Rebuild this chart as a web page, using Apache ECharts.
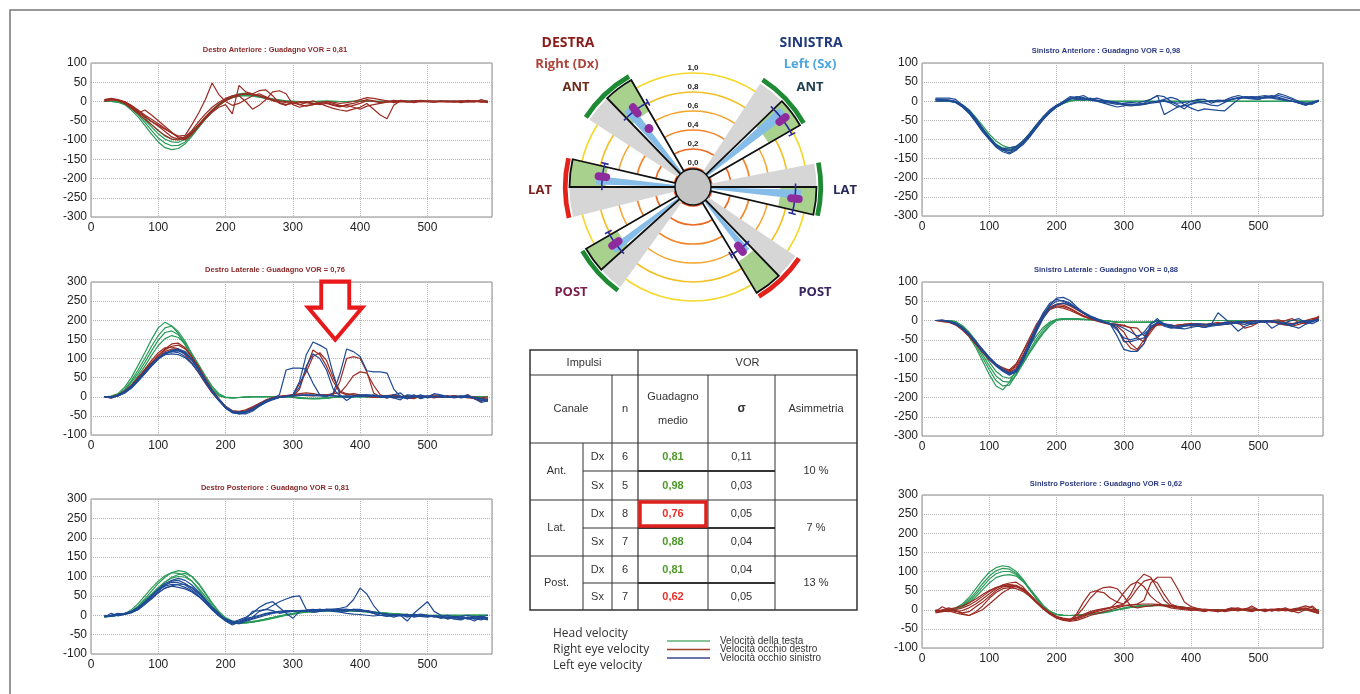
<!DOCTYPE html>
<html>
<head>
<meta charset="utf-8">
<title>VOR – video head impulse test</title>
<script src="https://cdn.jsdelivr.net/npm/echarts@6/dist/echarts.min.js"></script>
<style>
  html, body { margin: 0; padding: 0; background: #fff; }
  #chart { width: 1360px; height: 694px; }
</style>
</head>
<body>
<div id="chart"></div>
<script>
// sample times (ms) shared by every trace
const timeMs = [20,30,40,50,60,70,80,90,100,110,120,130,140,150,160,170,180,190,200,210,220,230,240,250,260,270,280,290,300,310,320,330,340,350,360,370,380,390,400,410,420,430,440,450,460,470,480,490,500,510,520,530,540,550,560,570,580,590];

// ---- Destro Anteriore
const dxAntHead = [
  [0,0,-2,-8,-22,-40,-62,-85,-105,-120, -125,-122,-110,-90,-68,-46,-27,-10,3,12, 16,17,15,12,8,5,3,1,0,0, 0,-1,0,1,0,0,-1,0,1,0, 0,0,1,0,0,1,2,1,0,0, 1,0,0,1,0,0,1,0],
  [0,0,-1,-6,-18,-34,-54,-75,-95,-108, -115,-114,-105,-88,-66,-45,-27,-11,2,10, 14,15,14,11,8,5,3,1,0,0, 0,0,1,0,0,0,0,1,0,0, 1,0,0,0,1,0,1,0,1,0, 0,1,0,0,1,0,0,1],
  [0,0,-1,-5,-15,-30,-48,-66,-84,-98, -105,-106,-98,-82,-62,-42,-24,-9,3,11, 15,17,16,13,9,6,3,1,0,0, 0,0,0,1,0,0,0,0,1,0, 0,1,0,0,0,1,0,1,0,0, 1,0,0,0,0,1,0,0],
  [0,0,0,-4,-12,-26,-42,-60,-76,-90, -97,-98,-92,-78,-60,-40,-22,-6,6,14, 20,22,20,16,11,7,4,2,1,0, 0,0,0,0,1,0,0,0,0,1, 0,0,0,1,0,0,0,0,1,0, 0,0,1,0,0,0,0,1]
];
const dxAntEyeR = [
  [5,8,5,0,-10,-22,-35,-46,-58,-70, -82,-92,-95,-80,-60,-40,-22,-8,5,14, 18,20,18,14,8,3,0,-3,-5,-3, 0,-5,-8,-5,-10,-14,-8,-5,0,5, 2,-2,0,3,0,-2,0,2,0,-2, 0,2,0,-3,0,2,0,-2],
  [3,5,3,-2,-12,-25,-38,-52,-62,-72, -82,-90,-88,-60,-30,5,48,18,0,-10, -5,5,15,20,12,2,-3,-8,-5,0, -3,-6,-2,0,-5,-10,-15,-10,-5,2, 0,-3,-2,0,2,-1,1,3,0,-2, 1,0,-1,2,0,-2,5,0],
  [2,6,4,-2,-15,-30,-22,-35,-50,-65, -80,-95,-100,-85,-65,-45,-28,-15,-8,-32, 42,25,20,28,30,15,-5,-10,0,-8, -3,2,-5,-12,-18,-22,-25,-20,-15,-5, -20,-35,-45,-10,2,0,-3,1,-1,0, 2,0,-2,0,3,0,-2,0],
  [0,4,3,-3,-14,-28,-40,-52,-64,-78, -92,-98,-96,-82,-62,-42,-24,-10,2,10, 15,0,-20,-10,5,25,28,20,-8,-15, -10,-8,-5,-3,-8,-12,-10,-15,-20,-12, -8,-5,-2,0,3,1,-2,0,2,1, 0,-2,0,1,0,2,-1,0],
  [5,6,2,-5,-18,-32,-46,-60,-75,-88, -98,-100,-92,-75,-52,-32,-15,-2,8,15, 18,20,18,15,10,5,2,0,-4,-8, -12,-8,-4,0,-2,-5,-3,0,5,10, 8,5,2,-3,-1,0,2,-1,0,1, -1,0,2,0,-2,0,1,-3]
];

// ---- Destro Laterale
const dxLatHead = [
  [0,2,8,25,50,82,115,150,180,195, 185,165,135,105,72,42,16,2,-2,-3, -2,-1,0,0,0,0,0,0,0,-2, -4,-5,-5,-4,-2,0,0,1,0,0, 0,0,0,0,1,0,0,0,0,0, 0,0,0,0,0,0,0,0],
  [0,1,6,20,42,70,100,132,160,180, 185,170,145,112,80,48,20,4,-2,-3, -2,-1,0,0,0,0,0,0,-2,-4, -5,-5,-4,-3,-1,0,0,0,0,0, 0,0,0,1,0,0,0,0,0,0, 0,0,0,0,0,0,0,0],
  [0,1,5,17,38,62,90,120,148,168, 172,162,140,110,80,50,24,6,-2,-3, -2,-1,0,0,0,0,0,0,-1,-3, -4,-5,-5,-3,-2,0,0,0,0,0, 0,0,0,0,0,0,0,0,0,0, 0,0,0,0,0,0,0,0],
  [0,0,4,14,32,55,80,108,134,152, 160,155,138,112,84,55,28,8,-1,-2, -2,-1,0,0,0,0,0,0,-1,-3, -4,-4,-4,-3,-2,-1,0,0,0,0, 0,0,0,0,0,0,0,0,0,0, 0,0,0,0,0,0,0,0]
];
const dxLatEyeR = [
  [0,-4,2,12,28,48,68,88,108,125, 138,140,128,105,78,48,18,-5,-25,-38, -42,-38,-30,-20,-10,-4,0,2,0,20, 75,122,110,80,40,12,5,8,5,3, 0,-2,3,5,0,-5,2,-3,0,5, 0,3,-2,0,5,-5,-10,-8],
  [0,0,5,15,30,50,70,90,108,122, 132,135,125,102,75,45,15,-8,-28,-40, -44,-40,-32,-22,-12,-5,0,3,5,5, 3,2,5,5,5,40,100,105,100,65, 10,0,-3,5,0,-3,-5,2,0,-3, 2,0,3,-2,0,-5,-12,-5],
  [0,-2,4,14,30,50,72,95,115,128, 130,125,110,88,62,35,10,-10,-28,-38, -40,-36,-28,-18,-8,-2,2,3,5,8, 10,8,5,5,8,10,30,55,65,62, 30,5,0,-3,0,3,0,-2,2,0, -2,0,3,0,-2,-5,-3,0],
  [0,0,3,12,26,45,66,86,104,118, 125,124,115,95,70,42,15,-6,-25,-36, -38,-34,-26,-18,-10,-4,0,2,4,35, 65,105,115,95,50,15,8,5,3,0, -2,0,3,-2,0,2,-3,0,2,0, -2,0,2,0,-3,0,-4,-6]
];
const dxLatEyeL = [
  [0,0,2,10,22,40,60,80,98,112, 122,125,118,98,72,44,15,-8,-30,-42, -44,-45,-38,-25,-14,-6,-2,0,5,40, 110,143,135,125,60,5,-10,2,0,3, 5,2,0,-3,-8,5,3,-5,0,8, 5,0,-3,0,5,-5,-15,-10],
  [0,-3,3,12,25,42,62,82,100,115, 120,122,115,98,72,42,14,-8,-28,-40, -45,-42,-35,-22,-12,-5,5,70,75,75, 72,35,5,3,2,0,2,0,3,0, 3,0,-3,0,2,-5,0,3,-2,0, 2,-2,0,3,-2,-3,-8,-12],
  [0,0,2,10,24,42,62,82,100,112, 118,120,112,95,70,42,15,-6,-26,-38, -42,-40,-34,-25,-15,-8,-2,0,2,3, 5,3,2,0,10,60,125,118,105,68, 65,65,62,20,0,-5,5,-3,0,2, -2,0,2,-3,0,-2,-10,-6],
  [0,-2,4,14,28,46,66,86,102,114, 118,115,105,88,64,38,12,-10,-30,-40, -40,-38,-30,-20,-10,-4,0,2,4,25, 80,112,100,70,20,2,-2,0,3,5, 2,-2,0,5,10,-5,0,5,-3,0, 3,0,-2,0,2,-2,-5,-8],
  [0,0,3,12,26,44,64,84,100,110, 112,110,102,86,64,38,12,-8,-28,-38, -42,-40,-34,-24,-14,-6,-2,0,2,4, 5,5,4,3,3,2,2,3,5,5, 3,2,3,0,-3,2,0,3,2,0, 0,2,0,-2,0,-3,-5,-10]
];

// ---- Destro Posteriore
const dxPostHead = [
  [-5,-3,0,2,10,24,42,62,82,98, 110,115,112,100,80,55,30,8,-8,-18, -20,-20,-18,-15,-12,-8,-4,0,3,6, 8,10,10,11,12,12,12,11,10,9, 8,6,5,4,3,2,1,0,0,-1, -1,0,0,-1,0,0,0,0],
  [-3,-2,0,4,14,30,50,70,88,102, 110,108,102,88,66,42,18,0,-12,-20, -22,-20,-18,-14,-10,-6,-2,2,5,8, 10,11,12,12,13,13,12,12,11,10, 8,7,5,4,3,2,1,0,-1,-1, 0,0,-1,0,0,0,0,0],
  [-4,-2,0,3,10,22,38,55,72,86, 96,100,98,88,70,48,25,5,-10,-18, -20,-19,-17,-14,-10,-6,-2,1,4,7, 9,10,11,12,12,12,12,11,10,9, 8,6,5,4,2,1,0,0,-1,0, 0,-1,0,0,0,0,0,0],
  [-3,-3,0,2,8,18,34,52,70,86, 98,105,108,100,82,58,32,10,-6,-15, -18,-18,-16,-13,-10,-6,-3,0,3,6, 8,9,10,11,12,12,12,11,10,8, 7,6,5,3,2,1,0,0,0,-1, 0,0,0,-1,0,0,0,0]
];
const dxPostEyeL = [
  [-5,5,-2,3,8,18,32,50,68,82, 90,95,90,78,60,40,20,2,-12,-20, -15,-8,-5,10,15,12,5,8,10,12, 10,12,15,12,10,8,5,3,2,0, -2,0,3,-2,0,3,-5,-2,0,-3, -5,-8,-3,-5,-10,-5,-2,-8],
  [-2,0,5,2,6,14,28,45,62,78, 88,90,82,70,55,38,20,5,-15,-25, -18,-10,10,12,15,25,35,42,48,50, 15,8,10,12,15,12,10,15,12,10, 5,0,-3,0,2,-5,0,3,0,-2, -3,0,-5,-8,-5,-10,-5,0],
  [0,-3,0,4,10,20,35,52,65,75, 80,78,72,62,50,35,18,0,-10,-18, -12,-5,5,20,30,35,20,5,-8,10, 12,8,10,15,12,10,12,15,15,10, 5,0,-2,2,0,-2,3,0,-3,0, -5,-2,-8,-3,0,-5,-3,-10],
  [-3,0,2,5,8,15,28,42,58,70, 75,72,68,60,48,32,15,0,-10,-15, -18,-12,-5,0,5,8,10,12,12,12, 13,15,12,15,15,18,22,40,70,55, 25,5,0,-5,0,-15,5,20,35,10, 0,-10,-5,-3,-8,-15,-5,-10],
  [-4,-2,0,3,8,18,33,50,66,78, 85,84,78,66,50,32,14,-2,-15,-22, -20,-14,-8,-2,3,6,8,10,10,12, 12,14,15,14,13,14,15,12,10,12, 8,5,3,0,2,-2,0,-3,-5,-2, -8,-5,-10,-12,-5,-8,-12,-5],
  [-2,0,3,5,10,20,32,45,58,70, 76,80,80,72,58,40,20,3,-12,-20, -22,-16,-10,-5,0,5,8,9,10,12, 12,12,14,15,15,16,15,14,13,12, 8,5,2,0,-2,0,-3,-2,0,-5, -3,-8,-5,-10,-6,-3,-8,-12]
];

// ---- Sinistro Anteriore
const sxAntHead = [
  [0,0,0,-3,-12,-28,-50,-75,-98,-118, -128,-130,-122,-105,-85,-62,-42,-26,-13,-4, 2,4,4,3,2,1,0,0,0,0, 0,0,0,0,0,0,0,0,0,0, 0,0,0,0,0,0,0,0,0,0, 0,0,0,0,0,0,0,0],
  [0,0,0,-2,-10,-25,-46,-70,-92,-112, -122,-126,-120,-104,-84,-62,-42,-26,-14,-5, 1,3,4,3,2,1,0,0,0,0, 0,0,0,0,0,0,0,0,0,0, 0,0,0,0,0,0,0,0,0,0, 0,0,0,0,0,0,0,0],
  [0,0,0,-2,-9,-22,-42,-64,-86,-104, -116,-122,-118,-104,-86,-65,-45,-28,-15,-6, 0,3,4,3,2,1,0,0,0,0, 0,0,0,0,0,0,0,0,0,0, 0,0,0,0,0,0,0,0,0,0, 0,0,0,0,0,0,0,0]
];
const sxAntEyeL = [
  [8,8,8,5,-10,-25,-48,-72,-95,-115, -128,-135,-125,-108,-88,-65,-45,-28,-15,-5, 5,12,8,5,8,3,0,-3,-8,-10, -8,-5,5,15,-35,-25,-15,-10,0,5, 5,-5,0,3,10,15,10,8,5,10, 12,15,10,5,-5,-10,-5,0],
  [5,5,3,0,-12,-28,-50,-74,-96,-116, -126,-128,-120,-110,-92,-70,-48,-30,-15,-5, 8,5,3,8,2,0,-2,-5,-10,-12, -10,-8,-3,0,5,10,5,-10,-18,-25, -20,-22,-24,-25,-10,5,12,10,8,12, 15,10,5,0,-3,-10,-5,0],
  [0,0,2,-2,-15,-32,-55,-80,-100,-120, -132,-138,-128,-110,-88,-64,-42,-25,-12,0, 12,10,15,5,0,-3,-5,-8,-5,-3, -5,0,5,15,12,0,-10,-20,-5,-3, 0,2,-2,0,5,8,10,12,10,8, 10,20,15,8,0,-5,-3,3],
  [3,2,0,-4,-14,-30,-52,-76,-98,-116, -124,-122,-118,-104,-84,-62,-40,-22,-10,-2, 6,8,10,2,0,-5,-10,-15,-12,-8, -10,-8,-5,-3,0,-5,-15,-12,-8,-3, -5,-10,-12,-3,5,8,10,10,12,15, 10,8,3,0,-5,-8,-3,2],
  [5,4,3,0,-10,-24,-45,-70,-94,-114, -125,-130,-126,-114,-94,-70,-48,-28,-12,-2, 8,9,6,5,3,0,-3,-5,-6,-8, -8,-6,-3,0,2,-3,-5,-3,0,2, -2,0,3,2,5,10,8,6,5,10, 8,5,2,0,-3,-5,-8,2]
];

// ---- Sinistro Laterale
const sxLatHead = [
  [0,0,0,-5,-20,-42,-70,-105,-140,-170, -180,-160,-128,-96,-66,-40,-18,-4,3,5, 5,4,3,2,1,0,-2,-5,-5,-5, -5,-5,-5,-2,0,0,0,0,0,0, 0,0,0,0,0,0,0,0,0,0, 0,0,0,0,0,0,0,0],
  [0,0,0,-4,-18,-38,-64,-96,-128,-156, -170,-168,-140,-108,-76,-48,-24,-6,2,4, 4,4,3,2,1,0,-3,-5,-5,-5, -5,-5,-4,-2,0,0,0,0,0,0, 0,0,0,0,0,0,0,0,0,0, 0,0,0,0,0,0,0,0],
  [0,0,0,-3,-15,-34,-58,-88,-118,-144, -158,-160,-142,-112,-82,-54,-30,-10,2,4, 4,3,3,2,1,0,-2,-4,-5,-5, -5,-4,-4,-2,0,0,0,0,0,0, 0,0,0,0,0,0,0,0,0,0, 0,0,0,0,0,0,0,0],
  [0,0,0,-3,-13,-30,-52,-80,-108,-132, -146,-150,-138,-112,-84,-58,-34,-14,0,3, 4,3,2,2,1,0,-2,-4,-5,-5, -5,-5,-4,-2,0,0,0,0,0,0, 0,0,0,0,0,0,0,0,0,0, 0,0,0,0,0,0,0,0]
];
const sxLatEyeR = [
  [0,-3,-5,-10,-22,-40,-60,-82,-102,-118, -128,-132,-115,-80,-45,-10,15,35,42,40, 32,22,12,5,0,-5,-10,-15,-30,-60, -75,-50,-15,-10,-12,-15,-12,-10,-8,-10, -12,-8,-5,-10,-8,-5,-20,-15,-5,-3, 0,-5,-10,-15,-10,-5,0,10],
  [0,0,-2,-8,-18,-35,-55,-75,-96,-114, -126,-134,-125,-95,-60,-25,8,28,35,32, 26,18,10,4,-2,-6,-10,-20,-50,-72, -78,-60,-20,-12,-10,-12,-15,-12,-10,-8, -10,-12,-8,-5,-3,-8,-5,-10,-5,0, -3,-8,-12,-10,-5,0,5,8],
  [0,-2,-4,-12,-25,-42,-62,-82,-100,-116, -125,-128,-112,-82,-50,-18,10,30,38,36, 30,20,12,5,0,-5,-8,-10,-12,-20, -45,-55,-30,-8,-10,-12,-15,-10,-8,-12, -10,-8,-12,-10,-5,-3,-2,-5,0,-2, -5,-3,0,5,-5,-8,0,12],
  [0,0,-3,-10,-20,-38,-58,-78,-98,-114, -122,-130,-120,-90,-55,-20,12,32,42,45, 38,28,18,8,2,-5,-8,-10,-15,-18, -20,-40,-25,-5,-10,-15,-12,-10,-15,-12, -15,-12,-10,-8,-5,-5,-3,0,-2,-5, 0,2,-5,-8,-5,-3,2,5]
];
const sxLatEyeL = [
  [0,0,-2,-8,-20,-36,-56,-78,-98,-116, -130,-140,-135,-105,-65,-25,10,40,58,60, 52,35,20,10,3,-3,-10,-40,-75,-80, -80,-60,-10,5,-15,-20,-18,-15,-12,-15, -18,-10,20,5,-10,-28,-15,-8,-5,-3, -20,-10,-5,0,5,-5,-8,0],
  [0,2,-3,-10,-22,-38,-58,-80,-100,-118, -132,-142,-130,-95,-55,-15,20,45,55,50, 42,30,18,10,2,-4,-8,-20,-55,-55, -50,-45,-15,-5,-10,-15,-20,-15,-12,-10, -12,-8,-10,-5,-5,-8,-10,-5,0,-5, -3,-5,-10,-15,-20,-10,-3,5],
  [0,0,-2,-6,-18,-34,-54,-75,-95,-112, -126,-138,-132,-102,-68,-30,5,30,42,45, 40,32,22,12,5,-2,-10,-25,-45,-50, -45,-30,-8,0,-8,-12,-15,-12,-10,-8, -10,-12,-10,-8,-5,-3,-5,-2,0,-3, 0,-5,-8,-12,-5,0,-3,2],
  [0,0,-3,-9,-20,-36,-56,-78,-98,-114, -128,-136,-128,-100,-62,-22,15,38,50,52, 45,32,20,8,0,-5,-8,-12,-20,-30, -40,-35,-20,-5,-12,-18,-20,-22,-18,-15, -18,-15,-12,-10,-8,-5,-5,-8,-5,0, -3,-5,-8,-10,-5,-3,0,3]
];

// ---- Sinistro Posteriore
const sxPostHead = [
  [-5,-3,0,5,15,32,55,78,98,110, 115,112,100,80,55,30,8,-5,-12,-15, -15,-15,-14,-12,-10,-8,-5,0,5,8, 10,12,12,12,12,10,8,5,3,2, 0,0,0,0,0,0,0,0,0,0, 0,0,0,0,0,0,0,0],
  [-4,-2,0,3,12,26,46,68,88,102, 108,106,95,76,52,28,8,-6,-12,-15, -15,-15,-14,-12,-10,-7,-4,0,4,7, 9,10,11,12,12,10,8,5,3,1, 0,0,0,0,0,0,0,0,0,0, 0,0,0,0,0,0,0,0],
  [-3,-2,0,3,10,22,40,60,80,94, 100,100,92,76,55,32,10,-5,-12,-14, -15,-14,-13,-11,-9,-6,-3,0,3,6, 8,10,11,12,12,11,9,6,3,1, 0,0,0,0,0,0,0,0,0,0, 0,0,0,0,0,0,0,0],
  [-3,-2,0,2,8,18,34,52,70,84, 90,92,88,74,55,34,12,-4,-12,-15, -15,-14,-13,-11,-9,-6,-3,0,3,6, 8,9,10,11,11,10,8,6,3,1, 0,0,0,0,0,0,0,0,0,0, 0,0,0,0,0,0,0,0]
];
const sxPostEyeR = [
  [-5,8,0,-5,-2,5,15,28,42,55, 65,70,72,60,40,20,5,-10,-20,-25, -28,-25,-18,-10,-5,0,5,10,15,40, 75,93,85,55,25,10,5,3,0,-2, -5,0,-3,0,2,-2,0,10,0,-5, 0,-3,0,2,5,10,5,-5],
  [-3,-5,0,-3,-8,-5,8,20,35,50, 60,62,60,52,38,20,5,-8,-18,-25, -30,-28,-22,-15,-10,-5,0,5,10,12, 15,25,70,85,85,85,55,20,8,3, 0,-3,-5,0,3,5,-2,-5,0,2, -3,0,5,-3,-8,0,10,-5],
  [-5,0,5,-2,-10,-15,-5,10,30,45, 55,58,55,48,35,18,2,-12,-22,-28, -30,-10,20,45,50,58,60,55,35,10, 5,8,10,12,10,8,5,3,2,0, -3,0,-5,-2,0,-3,2,0,-2,0, -3,0,2,0,-2,3,0,-5],
  [-8,-5,-3,-8,-12,-15,-8,0,15,30, 45,55,62,55,40,22,5,-10,-20,-25, -25,-22,-15,-8,-2,2,5,20,45,65, 73,60,35,20,10,5,2,0,-2,0, 2,0,-3,0,5,2,0,-3,0,-2, 0,3,0,-5,0,2,-3,-8],
  [0,-3,-5,0,5,12,22,35,48,58, 62,65,62,52,38,22,5,-8,-18,-22, -25,-15,5,30,48,45,30,20,15,30, 55,75,80,70,40,15,8,5,3,2, 0,-2,0,-5,-2,0,3,5,0,-2, 0,2,-3,0,3,0,-5,-10],
  [-3,-2,2,5,10,18,28,40,50,58, 64,66,64,55,40,22,5,-10,-20,-25, -25,-20,-12,-5,0,3,6,9,11,13, 14,15,15,14,12,10,8,6,4,2, 0,-2,0,-3,0,2,0,-2,0,0, 2,0,-2,0,3,5,0,-5]
];

// ---- summary table
const tableCanal = ['Ant.', 'Lat.', 'Post.'];
const tableSide = ['Dx', 'Sx', 'Dx', 'Sx', 'Dx', 'Sx'];
const tableN = [6, 5, 8, 7, 6, 7];
const tableGain = [0.81, 0.98, 0.76, 0.88, 0.81, 0.62];
const tableSigma = [0.11, 0.03, 0.05, 0.04, 0.04, 0.05];
const tableAsym = [10, 7, 13];
const highlightRow = 2;
const gainLimit = 0.8;

// ---- polar diagram (angles in degrees, counter-clockwise from east)
const ringValues = [0, 0.2, 0.4, 0.6, 0.8, 1.0];
const wedgeFrom = [120, 167, 210, 30, -13, -59];
const wedgeMid = [134, 180, 222, 44, 0, -46];
const wedgeTo = [147, 194, 234, 57, 11, -34];
const wedgeRow = [0, 2, 4, 1, 3, 5];           // table row of each wedge
const extraDot = [0.57, null, null, null, null, null];

// annotation arrow on Destro Laterale (ms, deg/s)
const arrowAt = [363, 225];

const HEAD = '#2a9a58', RIGHT = '#9b2b23', LEFT = '#1f4a95';
const FONT = '"Liberation Sans", Arial, sans-serif';
const fmt = v => v.toFixed(2).replace('.', ',');
const gainColor = v => (v < gainLimit ? '#e8312a' : '#4f9a2c');

const panels = [
  { name: 'Destro Anteriore', row: 0, head: dxAntHead, right: dxAntEyeR, left: [], yMin: -300, yMax: 100,
    box: { left: 91, top: 63, width: 401, height: 154 }, tx: 275, ty: 46, color: '#8a2a2a' },
  { name: 'Destro Laterale', row: 2, head: dxLatHead, right: dxLatEyeR, left: dxLatEyeL, yMin: -100, yMax: 300,
    box: { left: 91, top: 282, width: 401, height: 153 }, tx: 275, ty: 266, color: '#8a2a2a' },
  { name: 'Destro Posteriore', row: 4, head: dxPostHead, right: [], left: dxPostEyeL, yMin: -100, yMax: 300,
    box: { left: 91, top: 499, width: 401, height: 155 }, tx: 275, ty: 484, color: '#8a2a2a' },
  { name: 'Sinistro Anteriore', row: 1, head: sxAntHead, right: [], left: sxAntEyeL, yMin: -300, yMax: 100,
    box: { left: 922, top: 63, width: 401, height: 153 }, tx: 1106, ty: 47, color: '#2b3a80' },
  { name: 'Sinistro Laterale', row: 3, head: sxLatHead, right: sxLatEyeR, left: sxLatEyeL, yMin: -300, yMax: 100,
    box: { left: 922, top: 282, width: 401, height: 154 }, tx: 1106, ty: 266, color: '#2b3a80' },
  { name: 'Sinistro Posteriore', row: 5, head: sxPostHead, right: sxPostEyeR, left: [], yMin: -100, yMax: 300,
    box: { left: 922, top: 495, width: 401, height: 153 }, tx: 1106, ty: 480, color: '#2b3a80' }
];

const grid = [], xAxis = [], yAxis = [], title = [], series = [];
const axisText = { color: '#222', fontSize: 12, fontFamily: FONT };
const dotted = { show: true, lineStyle: { color: '#b5b5b5', type: 'dotted', width: 1 } };

panels.forEach((p, k) => {
  grid.push(Object.assign({ show: true, borderColor: '#8a8a8a', borderWidth: 1 }, p.box));
  xAxis.push({
    type: 'value', gridIndex: k, min: 0, max: 596, interval: 100,
    axisLine: { show: false }, axisTick: { show: false },
    axisLabel: Object.assign({ margin: 5, showMaxLabel: false }, axisText),
    splitLine: dotted
  });
  yAxis.push({
    type: 'value', gridIndex: k, min: p.yMin, max: p.yMax, interval: 50,
    axisLine: { show: false }, axisTick: { show: false },
    axisLabel: Object.assign({ margin: 4 }, axisText),
    splitLine: dotted
  });
  title.push({
    text: p.name + ' : Guadagno VOR = ' + fmt(tableGain[p.row]),
    left: p.tx, top: p.ty, textAlign: 'center', padding: 0,
    textStyle: { fontSize: 7.5, fontWeight: 'bold', color: p.color, fontFamily: FONT }
  });
  const add = (traces, color) => traces.forEach(t => series.push({
    type: 'line', xAxisIndex: k, yAxisIndex: k, silent: true,
    data: timeMs.map((x, i) => [x, t[i]]),
    showSymbol: false, symbol: 'none',
    lineStyle: { color: color, width: 1.2 }
  }));
  add(p.head, HEAD);
  add(p.right, RIGHT);
  add(p.left, LEFT);
});

// red arrow on the lateral right panel
series.push({
  type: 'line', xAxisIndex: 1, yAxisIndex: 1, data: [], silent: true,
  markPoint: {
    silent: true,
    symbol: 'path://M13,0L41,0L41,26L54,26L27,58L0,26L13,26Z',
    symbolSize: [54, 58],
    itemStyle: { color: '#ffffff', borderColor: '#e8191b', borderWidth: 4 },
    label: { show: false },
    data: [{ coord: arrowAt }]
  }
});

// ---- polar pieces
const ringColors = ['#e9531f', '#ee6a22', '#f2862a', '#f4a42c', '#f3c025', '#f4d82a'];
const deg = a => a * Math.PI / 180;

series.push({
  type: 'custom', coordinateSystem: 'polar', silent: true,
  data: ringValues.map(v => [v, 90]),
  renderItem: (params, api) => {
    const cs = params.coordSys;
    const top = api.coord([api.value(0), 90]);
    const r = cs.cy - top[1];
    return {
      type: 'group', children: [
        { type: 'circle', shape: { cx: cs.cx, cy: cs.cy, r: r }, style: { fill: 'none', stroke: ringColors[params.dataIndex], lineWidth: 1.7 } },
        { type: 'text', x: top[0], y: top[1] - 5,
          style: { text: api.value(0).toFixed(1).replace('.', ','), font: 'bold 8px ' + FONT, fill: '#222',
                   align: 'center', verticalAlign: 'middle', textAlign: 'center', textVerticalAlign: 'middle' } }
      ]
    };
  }
});

series.push({
  type: 'custom', coordinateSystem: 'polar', silent: true,
  data: wedgeMid.map((m, i) => [tableGain[wedgeRow[i]], m, i]),
  renderItem: (params, api) => {
    const cs = params.coordSys;
    const i = api.value(2);
    const g = api.value(0);
    const from = wedgeFrom[i], mid = wedgeMid[i], to = wedgeTo[i];
    const pillA = (from + mid) / 2;
    const rad = v => api.coord([v, 0])[0] - cs.cx;
    const sec = (v0, v1, a1, a2) => ({
      cx: cs.cx, cy: cs.cy, r0: v0 == null ? 0 : rad(v0), r: rad(v1),
      startAngle: -deg(a2), endAngle: -deg(a1), clockwise: true
    });
    const ln = (p, q) => ({ x1: p[0], y1: p[1], x2: q[0], y2: q[1] });
    const kids = [
      { type: 'sector', shape: sec(null, 1.1, mid, to), style: { fill: '#d6d6d6' } },
      { type: 'sector', shape: sec(null, 1.1, from, mid), style: { fill: '#ffffff' } },
      { type: 'sector', shape: sec(0.72, 1.1, from, mid), style: { fill: '#a9d18e' } },
      { type: 'sector', shape: sec(null, g + 0.06, pillA, mid - 1.5), style: { fill: '#86bde8' } },
      { type: 'sector', shape: sec(null, 1.1, from, mid), style: { fill: 'none', stroke: '#111', lineWidth: 1.8 } },
      { type: 'sector', shape: sec(1.12, 1.17, from, to), style: { fill: g < gainLimit ? '#e3221c' : '#1f8a34' } },
      { type: 'arc', shape: { cx: cs.cx, cy: cs.cy, r: rad(g), startAngle: -deg(mid + 2), endAngle: -deg(from - 2), clockwise: true },
        style: { fill: 'none', stroke: '#2b2b9b', lineWidth: 1.6 } },
      { type: 'line', shape: ln(api.coord([g - 0.04, from - 2]), api.coord([g + 0.04, from - 2])),
        style: { stroke: '#2b2b9b', lineWidth: 1.6 } },
      { type: 'line', shape: ln(api.coord([g - 0.04, pillA]), api.coord([g + 0.04, pillA])),
        style: { stroke: '#8e2c9e', lineWidth: 8, lineCap: 'round' } }
    ];
    if (extraDot[i] != null) {
      const d = api.coord([extraDot[i], pillA]);
      kids.push({ type: 'circle', shape: { cx: d[0], cy: d[1], r: 4.5 }, style: { fill: '#8e2c9e' } });
    }
    return { type: 'group', children: kids };
  }
});

series.push({
  type: 'custom', coordinateSystem: 'polar', silent: true,
  data: [[0, 0]],
  renderItem: (params, api) => {
    const cs = params.coordSys;
    const r = api.coord([api.value(0), 0])[0] - cs.cx - 1;
    return { type: 'circle', shape: { cx: cs.cx, cy: cs.cy, r: r }, style: { fill: '#c4c4c4', stroke: '#111', lineWidth: 1.5 } };
  }
});

// ---- graphic: frame, polar captions, table, legend
const gfx = [];
gfx.push({ type: 'rect', shape: { x: 10, y: 10, width: 1400, height: 720 }, style: { fill: 'none', stroke: '#777', lineWidth: 1.5 } });

const text = (x, y, s, font, fill, align) => gfx.push({
  type: 'text', x: x, y: y, z: 10,
  style: { text: s, font: font, fill: fill, align: align || 'center', verticalAlign: 'middle',
           textAlign: align || 'center', textVerticalAlign: 'middle' }
});
const line = (x1, y1, x2, y2, w, c) => gfx.push({
  type: 'line', z: 10, shape: { x1: x1, y1: y1, x2: x2, y2: y2 }, style: { stroke: c || '#333', lineWidth: w || 1 }
});

const CAP = '"Open Sans", sans-serif';
[
  ['DESTRA', 568, 43, 14, '#8b1c1c'], ['Right (Dx)', 567, 64, 13, '#b0443c'],
  ['ANT', 576, 87, 13, '#6b2d1a'], ['LAT', 540, 190, 13, '#7a1f1f'], ['POST', 571, 292, 13, '#7a1f4a'],
  ['SINISTRA', 811, 43, 14, '#1f3a7a'], ['Left (Sx)', 810, 64, 13, '#4da6e0'],
  ['ANT', 810, 87, 13, '#1f4050'], ['LAT', 845, 190, 13, '#27285a'], ['POST', 815, 292, 13, '#3a2660']
].forEach(c => text(c[1], c[2], c[0], 'bold ' + c[3] + 'px ' + CAP, c[4]));

// table
const colX = [530, 583, 612, 638, 708, 775, 857];
const rowY = [350, 375, 443, 471, 500, 528, 556, 583, 610];
const TF = '11px ' + FONT, TC = '#333';
gfx.push({ type: 'rect', z: 10, shape: { x: colX[0], y: rowY[0], width: colX[6] - colX[0], height: rowY[8] - rowY[0] },
           style: { fill: 'none', stroke: '#333', lineWidth: 1.5 } });
[rowY[1], rowY[2], rowY[4], rowY[6]].forEach(y => line(colX[0], y, colX[6], y, 1.2));
[rowY[3], rowY[5], rowY[7]].forEach(y => { line(colX[1], y, colX[3], y, 1); line(colX[3], y, colX[5], y, 2); });
line(colX[3], rowY[0], colX[3], rowY[8], 1.2);
line(colX[2], rowY[1], colX[2], rowY[8], 1);
line(colX[1], rowY[2], colX[1], rowY[8], 1);
line(colX[4], rowY[1], colX[4], rowY[8], 1);
line(colX[5], rowY[1], colX[5], rowY[8], 1);

const cx = (a, b) => (colX[a] + colX[b]) / 2;
text(cx(0, 3), (rowY[0] + rowY[1]) / 2, 'Impulsi', TF, TC);
text(cx(3, 6), (rowY[0] + rowY[1]) / 2, 'VOR', TF, TC);
const hy = (rowY[1] + rowY[2]) / 2;
text(cx(0, 2), hy, 'Canale', TF, TC);
text(cx(2, 3), hy, 'n', TF, TC);
text(cx(3, 4), hy - 12, 'Guadagno', TF, TC);
text(cx(3, 4), hy + 12, 'medio', TF, TC);
text(cx(4, 5), hy, 'σ', 'bold 12px ' + FONT, TC);
text(cx(5, 6), hy, 'Asimmetria', TF, TC);
tableCanal.forEach((c, g) => {
  const yc = rowY[2 + 2 * g + 1];
  text(cx(0, 1), yc, c, TF, TC);
  text(cx(5, 6), yc, tableAsym[g] + ' %', TF, TC);
});
tableSide.forEach((s, r) => {
  const yc = (rowY[2 + r] + rowY[3 + r]) / 2;
  text(cx(1, 2), yc, s, TF, TC);
  text(cx(2, 3), yc, String(tableN[r]), TF, TC);
  text(cx(3, 4), yc, fmt(tableGain[r]), 'bold 11px ' + FONT, gainColor(tableGain[r]));
  text(cx(4, 5), yc, fmt(tableSigma[r]), TF, TC);
});
gfx.push({ type: 'rect', z: 11,
  shape: { x: colX[3] + 2, y: rowY[2 + highlightRow] + 2, width: colX[4] - colX[3] - 4, height: rowY[3 + highlightRow] - rowY[2 + highlightRow] - 4 },
  style: { fill: 'none', stroke: '#e0201c', lineWidth: 3.5 } });

// legend
const legendEn = ['Head velocity', 'Right eye velocity', 'Left eye velocity'];
const legendIt = ['Velocità della testa', 'Velocità occhio destro', 'Velocità occhio sinistro'];
const legendColor = ['#5fb075', '#a0402a', '#3a4a90'];
legendEn.forEach((s, i) => text(553, 634 + 16 * i, s, '12px ' + CAP, '#333', 'left'));
legendIt.forEach((s, i) => {
  line(667, 641 + 8.5 * i, 710, 641 + 8.5 * i, 1.5, legendColor[i]);
  text(720, 641 + 8.5 * i, s, '10px ' + FONT, '#333', 'left');
});

const chart = echarts.init(document.getElementById('chart'));
chart.setOption({
  animation: false,
  backgroundColor: '#ffffff',
  title: title,
  grid: grid,
  xAxis: xAxis,
  yAxis: yAxis,
  polar: { center: [693, 187], radius: 133 },
  angleAxis: { type: 'value', min: 0, max: 360, startAngle: 0, clockwise: false, show: false },
  radiusAxis: { type: 'value', min: -0.2, max: 1.2, show: false },
  series: series,
  graphic: gfx
});
</script>
</body>
</html>
